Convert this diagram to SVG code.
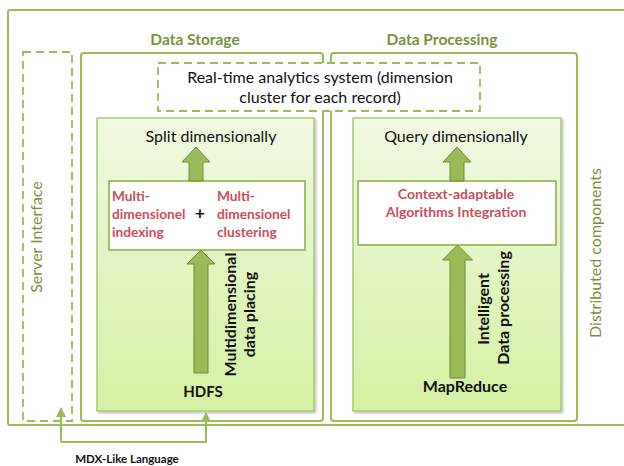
<svg xmlns="http://www.w3.org/2000/svg" width="624" height="466" viewBox="0 0 624 466">
<style>
.frame{fill:none;stroke:#9bbb59;stroke-width:2}
.dash{stroke:#9bbb59;stroke-width:1.8;stroke-dasharray:8,5}
.inner{fill:url(#g);stroke:#a8c77a;stroke-width:1.5}
.white{fill:#fff;stroke:#9bbb59;stroke-width:1.8}
.arrow{fill:#9bbb59;stroke:#6f8c3a;stroke-width:1}
.conn{fill:none;stroke:#9bbb59;stroke-width:2}
text{font-family:Lato,"Open Sans","Liberation Sans",sans-serif}
.glabel{fill:#76923c;font-weight:bold;font-size:15.5px;text-anchor:middle}
.gside{fill:#76923c;font-size:16px;text-anchor:middle}
.t{fill:#111;font-size:16px;text-anchor:middle}
.b{fill:#111;font-size:16px;font-weight:bold;text-anchor:middle}
.r{fill:#c9505a;font-size:13.7px;font-weight:bold}
</style>
<defs>
<linearGradient id="g" x1="0" y1="0" x2="0" y2="1">
<stop offset="0" stop-color="#f1f9e2"/>
<stop offset="1" stop-color="#d4f1a2"/>
</linearGradient>
<filter id="sh" x="-5%" y="-5%" width="110%" height="110%">
<feDropShadow dx="1.5" dy="1.5" stdDeviation="1" flood-color="#000" flood-opacity="0.25"/>
</filter>
<marker id="ah" viewBox="0 0 10 10" refX="9" refY="5" markerWidth="5" markerHeight="5" orient="auto">
<path d="M0,0 L10,5 L0,10 Z" fill="#9bbb59"/>
</marker>
</defs>
<g id="distributed-components">
<rect class="frame" x="8" y="10" width="640" height="415" rx="2"/>
<text class="gside" transform="translate(601,253) rotate(-90)">Distributed components</text>
</g>
<g id="server-interface">
<rect class="dash" fill="none" x="23" y="52" width="49" height="369"/>
<text class="gside" transform="translate(42,237) rotate(-90)">Server Interface</text>
</g>
<g id="data-storage">
<rect class="frame" x="81" y="53" width="242" height="368" rx="3"/>
<text class="glabel" x="195" y="45">Data Storage</text>
</g>
<g id="data-processing">
<rect class="frame" x="331" y="53" width="246" height="368" rx="3"/>
<text class="glabel" x="442" y="45">Data Processing</text>
</g>
<g id="realtime-analytics">
<rect class="dash" fill="#fff" x="158" y="63" width="322" height="48"/>
<text class="t" x="320" y="83">Real-time analytics system (dimension</text>
<text class="t" x="320" y="103">cluster for each record)</text>
</g>
<g id="hdfs-panel">
<rect class="inner" filter="url(#sh)" x="97" y="118" width="217" height="293"/>
<text class="t" x="211" y="142">Split dimensionally</text>
<text class="b" x="203" y="397" style="font-size:15px">HDFS</text>
</g>
<g id="mapreduce-panel">
<rect class="inner" filter="url(#sh)" x="353" y="118" width="208" height="293"/>
<text class="t" x="456" y="142">Query dimensionally</text>
<text class="b" x="465" y="392">MapReduce</text>
</g>
<g id="indexing-clustering">
<rect class="white" x="109" y="181" width="196" height="69"/>
<text class="r" x="112" y="201">Multi-</text>
<text class="r" x="112" y="219">dimensionel</text>
<text class="r" x="112" y="237">indexing</text>
<text class="b" x="200" y="219" style="font-size:17px">+</text>
<text class="r" x="217" y="201">Multi-</text>
<text class="r" x="217" y="219">dimensionel</text>
<text class="r" x="217" y="237">clustering</text>
</g>
<g id="context-adaptable">
<rect class="white" x="358" y="181" width="198" height="64"/>
<text class="r" x="456" y="199" text-anchor="middle" style="font-size:14px">Context-adaptable</text>
<text class="r" x="456" y="217" text-anchor="middle" style="font-size:14px">Algorithms Integration</text>
</g>
<g id="connectors">
<polygon class="arrow" points="196,147 210,162 203,162 203,181 189,181 189,162 182,162"/>
<polygon class="arrow" points="201,250 215,264 208,264 208,373 194,373 194,264 187,264"/>
<polygon class="arrow" points="457,147 471,162 464,162 464,181 450,181 450,162 443,162"/>
<polygon class="arrow" points="457.5,245 472.5,260 465,260 465,378 450,378 450,260 442.5,260"/>
<path class="conn" d="M61,442 L61,408" marker-end="url(#ah)"/>
<path class="conn" d="M61,442 L206,442 L206,413" marker-end="url(#ah)"/>
<text class="b" transform="translate(236,314.5) rotate(-90)">Multidimensional</text>
<text class="b" transform="translate(255,314.5) rotate(-90)">data placing</text>
<text class="b" transform="translate(489,309) rotate(-90)">Intelligent</text>
<text class="b" transform="translate(509,308) rotate(-90)">Data processing</text>
<text class="b" x="127" y="463" style="font-size:11.5px">MDX-Like Language</text>
</g>
</svg>
